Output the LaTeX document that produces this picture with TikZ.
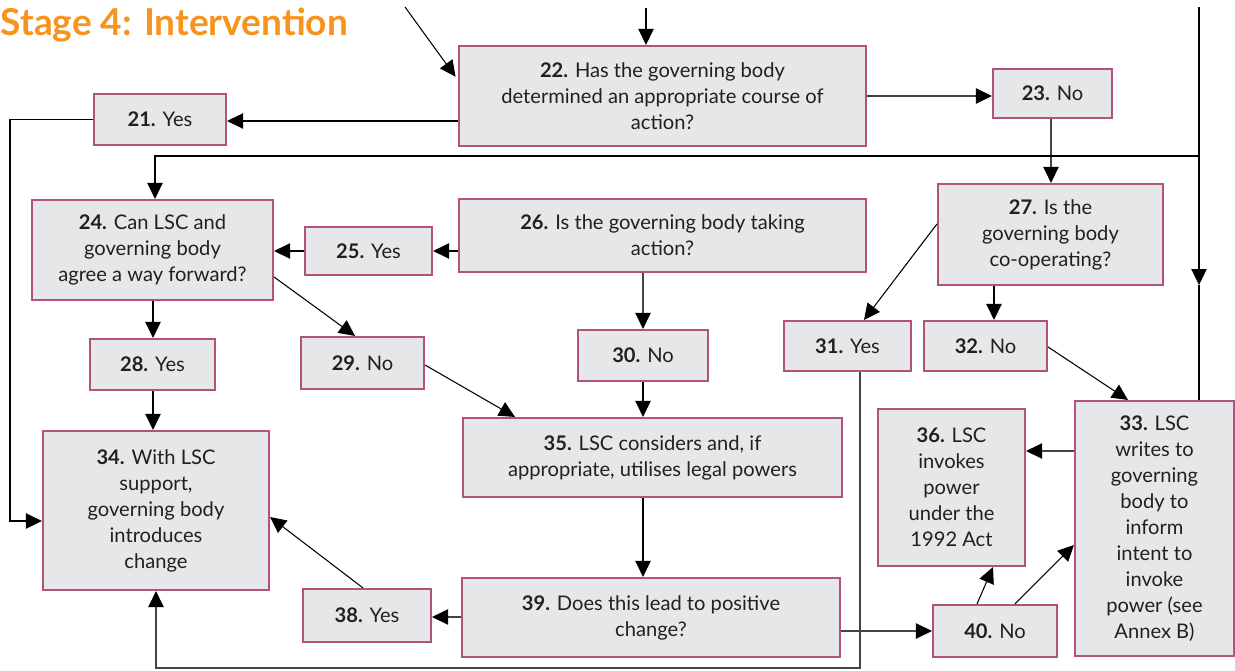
\documentclass[tikz,border=0pt]{standalone}
\usepackage{fontspec}
\setmainfont{Lato}
\usetikzlibrary{arrows.meta}
\definecolor{boxfill}{HTML}{E6E7E9}
\definecolor{boxline}{HTML}{B4527F}
\definecolor{txt}{HTML}{231F20}
\definecolor{ttl}{HTML}{F7941D}
\definecolor{lgray}{HTML}{444444}
\tikzset{
  box/.style={draw=boxline, fill=boxfill, line width=1.6pt, inner sep=0pt, align=center, text=txt,
    font=\fontsize{15.1pt}{19.5pt}\selectfont},
  arr/.style={draw=black, line width=0.8pt, -{Triangle[length=12pt,width=11.5pt,color=black]}},
  ln/.style={draw=black, line width=0.8pt},
}
\begin{document}
\begin{tikzpicture}[x=0.75pt,y=-0.75pt]
\clip (0,0) rectangle (1235,671);
\fill[white] (0,0) rectangle (1235,671);
\node[anchor=base west, text=ttl, font=\fontsize{27.8pt}{32pt}\selectfont\bfseries, inner sep=0pt] (title) at (0.5,35) {Stage 4: Intervention};

\node[box, minimum width=99pt, minimum height=38.25pt] (b21) at (160,119.5) {\textbf{21.} Yes};
\node[box, minimum width=305.25pt, minimum height=75pt] (b22) at (662.5,96) {\textbf{22.} Has the governing body\\determined an appropriate course of\\action?};
\node[box, minimum width=89.25pt, minimum height=36.75pt] (b23) at (1052.5,93.5) {\textbf{23.} No};
\node[box, minimum width=180.75pt, minimum height=75pt] (b24) at (152.5,250) {\textbf{24.} Can LSC and\\governing body\\agree a way forward?};
\node[box, minimum width=95.25pt, minimum height=36pt] (b25) at (368.5,251) {\textbf{25.} Yes};
\node[box, minimum width=305.25pt, minimum height=54.75pt] (b26) at (662.5,235.5) {\textbf{26.} Is the governing body taking\\action?};
\node[box, minimum width=168.75pt, minimum height=75.75pt] (b27) at (1050.5,234.5) {\textbf{27.} Is the\\governing body\\co-operating?};
\node[box, minimum width=93.75pt, minimum height=38.25pt] (b28) at (152.5,364.5) {\textbf{28.} Yes};
\node[box, minimum width=92.25pt, minimum height=39pt] (b29) at (362.5,363) {\textbf{29.} No};
\node[box, minimum width=97.5pt, minimum height=38.25pt] (b30) at (643,355.5) {\textbf{30.} No};
\node[box, minimum width=95.25pt, minimum height=37.5pt] (b31) at (847.5,346) {\textbf{31.} Yes};
\node[box, minimum width=92.25pt, minimum height=37.5pt] (b32) at (985.5,346) {\textbf{32.} No};
\node[box, minimum width=119.25pt, minimum height=191.25pt] (b33) at (1154.5,528.5) {\textbf{33.} LSC\\writes to\\governing\\body to\\inform\\intent to\\invoke\\power (see\\Annex B)};
\node[box, minimum width=169.5pt, minimum height=119.25pt] (b34) at (156,510.5) {\textbf{34.} With LSC\\support,\\governing body\\introduces\\change};
\node[box, minimum width=284.25pt, minimum height=59.25pt] (b35) at (652.5,457.5) {\textbf{35.} LSC considers and, if\\appropriate, utilises legal powers};
\node[box, minimum width=110.25pt, minimum height=117.75pt] (b36) at (951.5,487.5) {\textbf{36.} LSC\\invokes\\power\\under the\\1992 Act};
\node[box, minimum width=96pt, minimum height=39.75pt] (b38) at (367,615.5) {\textbf{38.} Yes};
\node[box, minimum width=283.5pt, minimum height=59.25pt] (b39) at (651,617.5) {\textbf{39.} Does this lead to positive\\change?};
\node[box, minimum width=93pt, minimum height=39pt] (b40) at (995,631) {\textbf{40.} No};

\coordinate (t1) at (646,8);
\coordinate (t2) at (405,7);
\coordinate (t3) at (1199,7);
\coordinate (m3) at (1199,285);
\coordinate (j3) at (1199,156);
\coordinate (c21) at (10,119.5);
\coordinate (c31) at (860,668);

\draw[arr] (t1) -- (t1 |- b22.north);
\draw[arr, shorten >=3pt] (t2) -- (b22.west |- 0,80);
\draw[arr] (b22.west |- 0,121) -- (b21.east |- 0,121);
\draw[arr] (b21.west) -- (c21) |- (b34.west |- 0,521);
\draw[arr, draw=lgray] (b22.east |- 0,96) -- (b23.west |- 0,96);
\draw[arr, draw=lgray] (b23.south -| 1051,0) -- (b27.north -| 1051,0);
\draw[arr] (t3) -- (m3);
\draw[ln] (m3) -- (b33.north -| m3);
\draw[arr] (j3) -| (b24.north -| 155,0);
\draw[arr] (b25.west) -- (b24.east |- b25.west);
\draw[arr] (b26.west |- b25.east) -- (b25.east);
\draw[arr] (b24.east |- 0,277) -- (b29.north -| 355,0);
\draw[arr] (b24.south -| 153,0) -- (b28.north -| 153,0);
\draw[arr] (b28.south -| 153,0) -- (b34.north -| 153,0);
\draw[arr, draw=lgray] (b26.south -| b30.north) -- (b30.north);
\draw[arr] (b27.west |- 0,224) -- (b31.north -| 864,0);
\draw[arr] (b27.south -| 994,0) -- (b32.north -| 994,0);
\draw[arr] (b32.east |- 0,347) -- (b33.north -| 1128,0);
\draw[arr] (b29.east |- 0,365) -- (b35.north -| 515,0);
\draw[arr] (b30.south) -- (b35.north -| b30.south);
\draw[arr, draw=lgray] (b31.south -| c31) -- (c31) -| (b34.south -| 156,0);
\draw[arr] (b35.south -| 643,0) -- (b39.north -| 643,0);
\draw[arr, draw=lgray] (b39.west |- 0,617) -- (b38.east |- 0,617);
\draw[arr] (b38.north -| 363,0) -- (b34.east |- 0,517);
\draw[arr, draw=lgray] (b39.east |- b40.west) -- (b40.west);
\draw[arr] (b40.north -| 977,0) -- (b36.south -| 993,0);
\draw[arr] (b40.north -| 1015,0) -- (b33.west |- 0,545);
\draw[arr, draw=lgray] (b33.west |- 0,451) -- (b36.east |- 0,451);
\end{tikzpicture}
\end{document}
